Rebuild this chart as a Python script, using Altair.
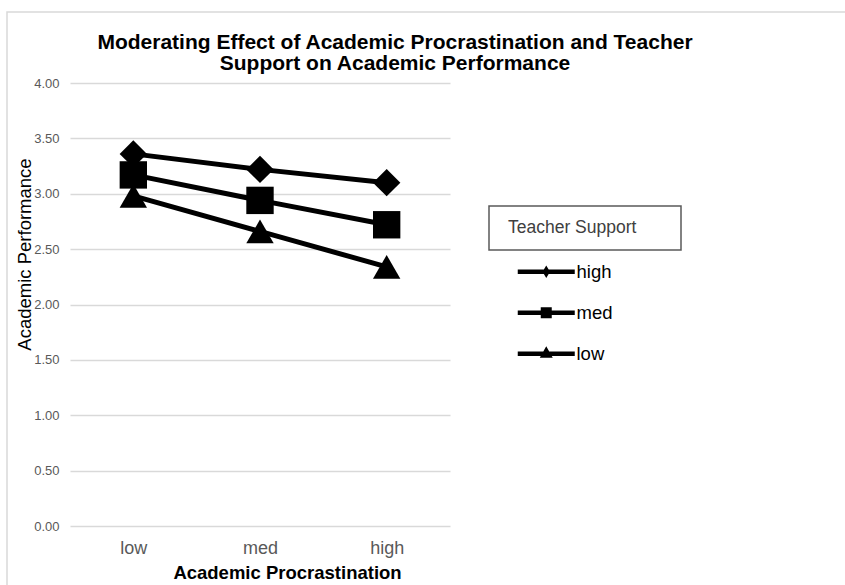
import altair as alt
import pandas as pd

procrastination = ["low", "med", "high"]
support_levels = ["high", "med", "low"]
high_support = [3.36, 3.22, 3.10]
med_support = [3.17, 2.94, 2.72]
low_support = [2.98, 2.66, 2.34]
y_ticks = [0, 0.5, 1.0, 1.5, 2.0, 2.5, 3.0, 3.5, 4.0]

rows = []
for lvl, vals in zip(support_levels, [high_support, med_support, low_support]):
    for p, v in zip(procrastination, vals):
        rows.append({"Procrastination": p, "Support": lvl, "Performance": v})
df = pd.DataFrame(rows)

FONT = "Liberation Sans"

# legend symbols: line segment + marker in one path (units of sqrt(size)/2)
bar = "M-5.7,-0.45L5.7,-0.45L5.7,0.45L-5.7,0.45Z"
p_high = bar + " M0,-1.25L0.75,0L0,1.25L-0.75,0Z"
p_med = bar + " M-1.1,-1.1L1.1,-1.1L1.1,1.1L-1.1,1.1Z"
p_low = bar + " M0,-1.5L1.3,0.8L-1.3,0.8Z"

x_enc = alt.X(
    "Procrastination:N",
    sort=procrastination,
    scale=alt.Scale(type="point", padding=0.5),
    axis=alt.Axis(
        title="Academic Procrastination",
        labelAngle=0,
        labelFontSize=18,
        labelColor="#595959",
        labelFont=FONT,
        labelPadding=13,
        titleFont=FONT,
        titleFontSize=18.5,
        titleFontWeight="bold",
        titleColor="black",
        titlePadding=6,
        titleX=217,
        grid=False,
        domain=False,
        ticks=False,
    ),
)
y_enc = alt.Y(
    "Performance:Q",
    scale=alt.Scale(domain=[0, 4]),
    axis=alt.Axis(
        title="Academic Performance",
        values=y_ticks,
        format=".2f",
        labelFontSize=13,
        labelColor="#595959",
        labelFont=FONT,
        labelPadding=11,
        titleFont=FONT,
        titleFontSize=18.5,
        titleFontWeight="normal",
        titleColor="black",
        titleX=-36,
        titleY=171,
        grid=True,
        gridColor="#d9d9d9",
        gridWidth=1.5,
        domain=False,
        ticks=False,
        tickSize=0,
    ),
)

base = alt.Chart(df)

lines = base.mark_line(color="black", strokeWidth=5).encode(
    x=x_enc, y=y_enc, detail="Support:N"
)

points = base.mark_point(filled=True, color="black", size=750, opacity=1).encode(
    x=x_enc,
    y=y_enc,
    shape=alt.Shape(
        "Support:N",
        scale=alt.Scale(domain=support_levels, range=["diamond", "square", "triangle-up"]),
        legend=None,
    ),
)

legend_layer = base.mark_point(filled=True, color="black", opacity=0).encode(
    x=x_enc,
    y=y_enc,
    shape=alt.Shape(
        "Support:N",
        scale=alt.Scale(domain=support_levels, range=[p_high, p_med, p_low]),
        legend=alt.Legend(
            title="Teacher Support",
            orient="none",
            legendX=438,
            legendY=136,
            padding=0,
            symbolSize=100,
            symbolOpacity=1,
            symbolFillColor="black",
            symbolStrokeWidth=0,
            symbolOffset=29,
            labelOffset=21,
            labelFontSize=18.5,
            labelFont=FONT,
            labelColor="black",
            titleFont=FONT,
            titleFontSize=17.5,
            titleFontWeight="normal",
            titleColor="#404040",
            titlePadding=26,
            rowPadding=22,
        ),
    ),
)

deco = pd.DataFrame({"k": [0]})
box = alt.Chart(deco).mark_rect(fill="white", fillOpacity=0, stroke="#595959", strokeWidth=1.5).encode(
    x=alt.value(419), x2=alt.value(611), y=alt.value(123), y2=alt.value(167)
)
frame = alt.Chart(deco).mark_rect(fill="white", fillOpacity=0, stroke="#d9d9d9", strokeWidth=1.5).encode(
    x=alt.value(-63), x2=alt.value(790), y=alt.value(-71), y2=alt.value(520)
)

chart = (
    alt.layer(frame, lines, points, legend_layer, box)
    .resolve_scale(shape="independent")
    .properties(
        width=380,
        height=443,
        autosize=alt.AutoSizeParams(type="none"),
        padding={"left": 70, "top": 83, "right": 395, "bottom": 59},
        background="white",
        title=alt.TitleParams(
            text=[
                "Moderating Effect of Academic Procrastination and Teacher",
                "Support on Academic Performance",
            ],
            font=FONT,
            fontSize=21,
            fontWeight="bold",
            color="black",
            anchor="middle",
            dx=135,
            dy=63,
            offset=0,
            lineHeight=21,
        ),
    )
    .configure_view(stroke=None)
)

chart.save("out.html", embed_options={"renderer": "svg", "actions": False})
